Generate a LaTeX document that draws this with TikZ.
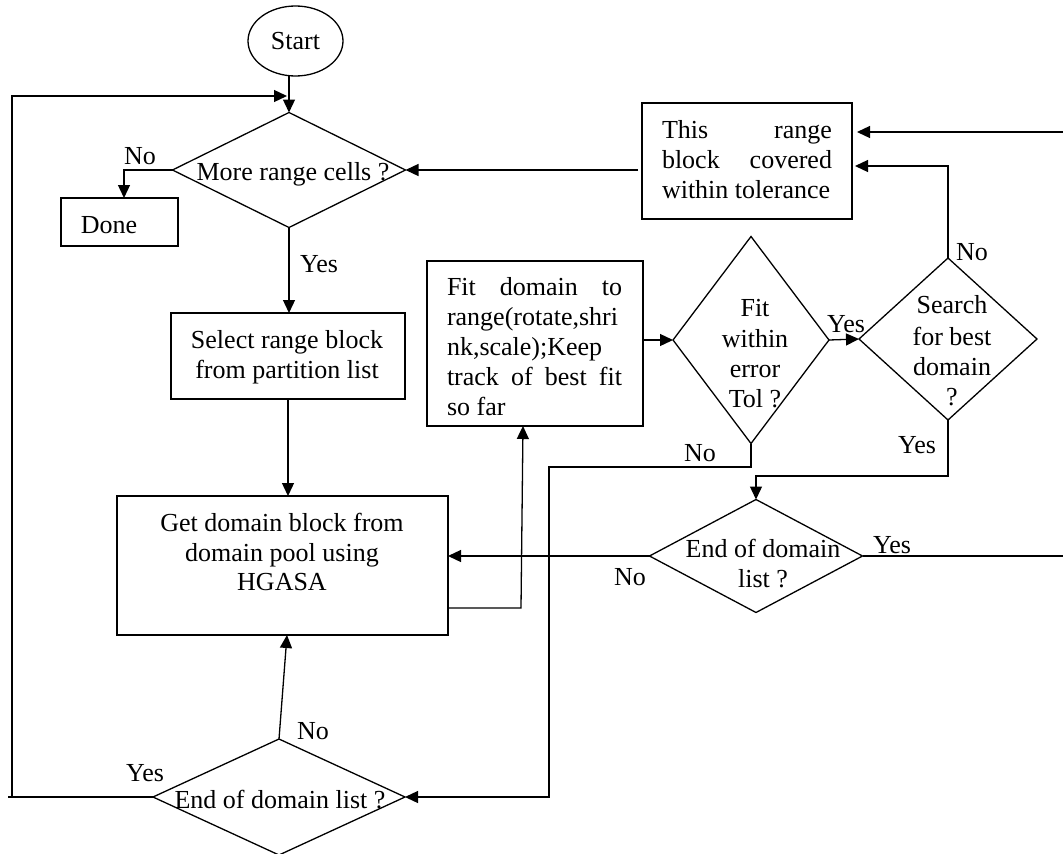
\documentclass[tikz,border=0pt]{standalone}
\usepackage{fontspec}
\setmainfont{Liberation Serif}
\usetikzlibrary{shapes.geometric,arrows.meta,calc}
\begin{document}
\begin{tikzpicture}[x=1pt,y=-1pt,
  every node/.style={font=\fontsize{26}{30}\selectfont, inner sep=0pt, outer sep=0pt},
  line width=1.3pt,
  boxnode/.style={draw, rectangle, line width=1.3pt},
  dianode/.style={draw, diamond, line width=1.3pt},
  txt/.style={anchor=base},
  ltxt/.style={anchor=base west},
  arr/.style={-{Triangle[length=13pt,width=12pt]}}
]
\fill[white] (0,0) rectangle (1063,854);
\useasboundingbox (0,0) rectangle (1063,854);

% shapes
\node[draw, ellipse, line width=1.3pt, minimum width=95pt, minimum height=70pt] (start) at (295.5,41) {Start};
\node[dianode, minimum width=233pt, minimum height=115pt] (d1) at (289,170) {};
\node[boxnode, minimum width=117pt, minimum height=48pt] (done) at (119.5,222) {};
\node[boxnode, minimum width=234pt, minimum height=86pt] (select) at (288,356) {};
\node[boxnode, minimum width=331pt, minimum height=139pt] (get) at (282.5,565.5) {};
\node[dianode, minimum width=252pt, minimum height=116pt] (d4) at (279,797) {};
\node[boxnode, minimum width=216pt, minimum height=165pt] (fit) at (535,343.5) {};
\node[dianode, minimum width=156pt, minimum height=207pt] (fitd) at (751,340) {};
\node[dianode, minimum width=178pt, minimum height=162pt] (search) at (948,339) {};
\node[boxnode, minimum width=210pt, minimum height=116pt] (range) at (747,161) {};
\node[dianode, minimum width=213pt, minimum height=113pt] (d3) at (756,556) {};

% texts inside shapes
\node[txt] (t-d1) at (293,180) {More range cells ?};
\node[txt] (t-done) at (109,233) {Done};
\node[txt] (t-sel1) at (287,348) {Select range block};
\node[txt] (t-sel2) at (287,378) {from partition list};
\node[txt] (t-get1) at (282,531) {Get domain block from};
\node[txt] (t-get2) at (282,561) {domain pool using};
\node[txt] (t-get3) at (282,590) {HGASA};
\node[txt] (t-d4) at (280,808) {End of domain list ?};
\begin{scope}
\clip (427,261) rectangle (643,416);
\node[ltxt] (t-fit1) at (447,295) {\hbox to 175pt{Fit\hfill domain\hfill to}};
\node[ltxt] (t-fit2) at (447,325) {range(rotate,shri};
\node[ltxt] (t-fit3) at (447,355) {nk,scale);Keep};
\node[ltxt] (t-fit4) at (447,385) {\hbox to 175pt{track\hfill of\hfill best\hfill fit}};
\node[ltxt] (t-fit5) at (447,415) {so far};
\end{scope}
\node[txt] (t-fd1) at (755,316) {Fit};
\node[txt] (t-fd2) at (755,347) {within};
\node[txt] (t-fd3) at (755,377) {error};
\node[txt] (t-fd4) at (755,407) {Tol ?};
\node[txt] (t-s1) at (952,313) {Search};
\node[txt] (t-s2) at (952,345) {for best};
\node[txt] (t-s3) at (952,375) {domain};
\node[txt] (t-s4) at (952,405) {?};
\node[ltxt] (t-r1) at (662,138) {\hbox to 170pt{This\hfill range}};
\node[ltxt] (t-r2) at (662,168) {\hbox to 170pt{block\hfill covered}};
\node[ltxt] (t-r3) at (662,198) {within tolerance};
\node[txt] (t-d31) at (763,557) {End of domain};
\node[txt] (t-d32) at (763,587) {list ?};

% connector labels
\node[txt] (l1) at (140,164) {No};
\node[txt] (l2) at (319,272) {Yes};
\node[txt] (l3) at (313,739) {No};
\node[txt] (l4) at (145,781) {Yes};
\node[txt] (l5) at (700,461) {No};
\node[txt] (l6) at (846,332) {Yes};
\node[txt] (l7) at (972,260) {No};
\node[txt] (l8) at (917,453) {Yes};
\node[txt] (l9) at (892,553) {Yes};
\node[txt] (l10) at (630,585) {No};

% coordinates
\coordinate (lstub) at (8,797);
\coordinate (lb) at (12,797);
\coordinate (lt) at (12,96);
\coordinate (loopend) at (287,96);
\coordinate (nb) at (549,467);
\coordinate (ys) at (d3.north |- 0,476);
\coordinate (redge1) at (1063,132);
\coordinate (redge2) at (1063,556);

% connectors
\draw[arr] (start.south -| d1.north) -- (d1.north);
\draw (d4.west) -- (lstub);
\draw[arr] (lb) -- (lt) -- (loopend);
\draw[arr] (d1.west) -| ($(done.north)+(4.5,0)$);
\draw[arr] (d1.south) -- (d1.south |- select.north);
\draw[arr] (select.south) -- (select.south |- get.north);
\draw[arr] (d4.north) -- ($(get.south)+(4.5,0)$);
\draw[arr] ($(get.south east)+(0,-27)$) -- ++(73,0) -- ($(fit.south west)+(96,0)$);
\draw[arr] (fit.east |- fitd.west) -- (fitd.west);
\draw[arr] (fitd.east) -- (search.west);
\draw[arr] (search.north) |- ($(range.east)+(3,5)$);
\draw[arr] (redge1) -- ($(range.east)+(5,-29)$);
\draw[arr, shorten <=4pt] (range.west |- d1.east) -- (d1.east);
\draw[arr] (fitd.south) |- (nb) |- (d4.east);
\draw[arr] (search.south) |- (ys) -- (d3.north);
\draw[arr] (d3.west) -- (d3.west -| get.east);
\draw (d3.east) -- (redge2);
\end{tikzpicture}
\end{document}
